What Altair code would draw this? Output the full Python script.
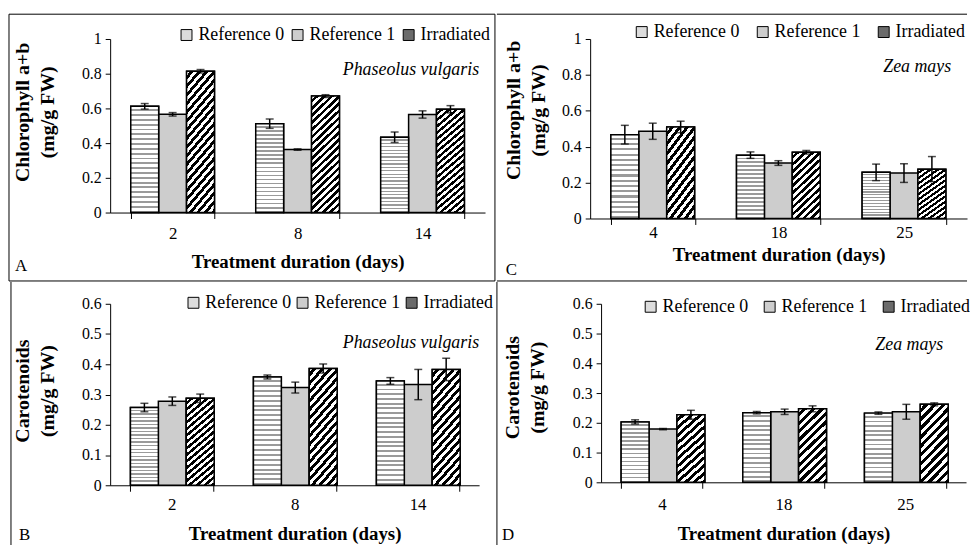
import altair as alt
import pandas as pd

FONT = "Liberation Serif"
SERIES = ["Reference 0", "Reference 1", "Irradiated"]
LEGEND_FILLS = ["#dcdcdc", "#cdcdcd", "#6b6b6b"]

# Panel A - Phaseolus vulgaris, chlorophyll a+b
a_days = ["2", "8", "14"]
a_ref0 = [0.612, 0.512, 0.434]
a_ref0_err = [0.016, 0.027, 0.030]
a_ref1 = [0.566, 0.363, 0.565]
a_ref1_err = [0.010, 0.004, 0.021]
a_irr = [0.814, 0.671, 0.595]
a_irr_err = [0.010, 0.008, 0.021]

# Panel C - Zea mays, chlorophyll a+b
c_days = ["4", "18", "25"]
c_ref0 = [0.467, 0.353, 0.257]
c_ref0_err = [0.052, 0.018, 0.046]
c_ref1 = [0.486, 0.309, 0.253]
c_ref1_err = [0.045, 0.013, 0.052]
c_irr = [0.510, 0.369, 0.275]
c_irr_err = [0.032, 0.010, 0.070]

# Panel B - Phaseolus vulgaris, carotenoids
b_days = ["2", "8", "14"]
b_ref0 = [0.257, 0.358, 0.345]
b_ref0_err = [0.014, 0.0065, 0.011]
b_ref1 = [0.278, 0.323, 0.333]
b_ref1_err = [0.014, 0.018, 0.050]
b_irr = [0.2875, 0.386, 0.383]
b_irr_err = [0.014, 0.015, 0.037]

# Panel D - Zea mays, carotenoids
d_days = ["4", "18", "25"]
d_ref0 = [0.203, 0.234, 0.2325]
d_ref0_err = [0.007, 0.004, 0.004]
d_ref1 = [0.179, 0.237, 0.237]
d_ref1_err = [0.002, 0.009, 0.025]
d_irr = [0.227, 0.247, 0.262]
d_irr_err = [0.015, 0.010, 0.005]

chl_ticks = [0, 0.2, 0.4, 0.6, 0.8, 1]
car_ticks = [0, 0.1, 0.2, 0.3, 0.4, 0.5, 0.6]
chl_title = ["Chlorophyll  a+b", "(mg/g FW)"]
car_title = ["Carotenoids", "(mg/g FW)"]
x_title = "Treatment duration (days)"


def make_df(days, r0, e0, r1, e1, ir, e2):
    rows = []
    for vals, errs, s in zip([r0, r1, ir], [e0, e1, e2], SERIES):
        for d, v, e in zip(days, vals, errs):
            rows.append({"day": d, "series": s, "value": v, "lo": v - e, "hi": v + e})
    return pd.DataFrame(rows)


def stripes(n, c_on, c_off, frac, x2, y2):
    stops = []
    for i in range(n):
        a = round(i / n, 5)
        b = round((i + frac) / n, 5)
        c = round((i + 1) / n, 5)
        stops += [
            alt.GradientStop(color=c_on, offset=a),
            alt.GradientStop(color=c_on, offset=b),
            alt.GradientStop(color=c_off, offset=b),
            alt.GradientStop(color=c_off, offset=c),
        ]
    return alt.LinearGradient(gradient="linear", stops=stops, x1=0, y1=0, x2=x2, y2=y2)


ONE = pd.DataFrame({"k": [0]})


def panel(df, days, ymax, yticks, ytitle, species, letter, g):
    w, h = g["w"], g["h"]
    xaxis = alt.Axis(
        title=x_title, labelAngle=0, tickBand="extent", tickSize=6,
        labelPadding=g["lpad"], labelFontSize=17, titleFontSize=19,
        titleFontWeight="bold", titleY=g["xty"], titleBaseline="middle",
    )
    yaxis = alt.Axis(
        title=ytitle, values=yticks, format="~g", tickSize=5, labelPadding=4,
        labelFontSize=16, titleFontSize=20, titleFontWeight="bold",
        titleX=g["ytx"], titleY=h / 2 + g["tyo"], titleAngle=270, titleAlign="center",
        titleBaseline="middle", titleLineHeight=25,
    )
    x = alt.X("day:N", sort=days, scale=alt.Scale(paddingInner=0.33, paddingOuter=0.165), axis=xaxis)
    xo = alt.XOffset("series:N", sort=SERIES,
                     scale=alt.Scale(domain=SERIES, paddingInner=0, paddingOuter=0))

    def y(field):
        return alt.Y(f"{field}:Q", scale=alt.Scale(domain=[0, ymax], nice=False), axis=yaxis)

    base = alt.Chart(df).encode(x=x, xOffset=xo)
    bars = base.mark_bar(stroke="black", strokeWidth=1.5).encode(
        y=y("value"),
        fill=alt.Fill(
            "series:N", sort=SERIES,
            scale=alt.Scale(domain=SERIES, range=LEGEND_FILLS),
            legend=alt.Legend(
                title=None, orient="none", legendX=g["lx"], legendY=g["ly"],
                direction="horizontal", symbolType="square", symbolSize=121,
                symbolStrokeColor="black", symbolStrokeWidth=1, labelOffset=3,
                columnPadding=g["lcp"], labelFontSize=18, labelFont=FONT,
                labelColor="black",
            ),
        ),
    )
    grad0 = stripes(g["n0"], "#ffffff", "#9a9a9a", 0.6, 0, 1)
    dx = g["dx"]
    k = (dx + 1) / (dx * dx + 1)
    grad2 = stripes(g["n2"], "#ffffff", "#000000", 0.5, round(dx * k, 4), round(k, 4))
    ref0 = base.transform_filter(alt.datum.series == "Reference 0").mark_bar(
        fill=grad0, stroke="black", strokeWidth=1.5).encode(y=y("value"))
    irr = base.transform_filter(alt.datum.series == "Irradiated").mark_bar(
        fill=grad2, stroke="black", strokeWidth=1.5).encode(y=y("value"))
    err = base.mark_rule(color="black", strokeWidth=1.5).encode(y=y("lo"), y2="hi:Q")
    cap_lo = base.mark_tick(color="black", thickness=1.5, size=8).encode(y=y("lo"))
    cap_hi = base.mark_tick(color="black", thickness=1.5, size=8).encode(y=y("hi"))

    sp = alt.Chart(ONE).mark_text(
        font=FONT, fontSize=18, fontStyle="italic", align="right", baseline="middle", color="black"
    ).encode(x=alt.value(g["sx"]), y=alt.value(g["sy"]), text=alt.value(species))
    lt = alt.Chart(ONE).mark_text(
        font=FONT, fontSize=17, align="left", baseline="middle", color="black"
    ).encode(x=alt.value(g["ltx"]), y=alt.value(g["lty"]), text=alt.value(letter))

    layers = [bars, ref0, irr, err, cap_lo, cap_hi, sp, lt]
    for (x1, x2, y1, y2, op) in g["borders"]:
        layers.append(
            alt.Chart(ONE).mark_rule(color="black", strokeWidth=1, opacity=op).encode(
                x=alt.value(x1), x2=alt.value(x2), y=alt.value(y1), y2=alt.value(y2))
        )
    return alt.layer(*layers).properties(width=w, height=h)


gA = dict(w=378, h=175, lpad=7, xty=49, ytx=-88, tyo=-14, lx=68, ly=-13, lcp=4, sx=372, sy=31,
          ltx=-96, lty=229, n0=22, n2=20, dx=0.23,
          borders=[(-102, -102, -25, 244, 1), (-102, 388, -25, -25, 1),
                   (388, 388, -25, 244, 1), (-102, 388, 244, 244, 1)])
gC = dict(w=380, h=181, lpad=0, xty=36, ytx=-77, tyo=-19, lx=43, ly=-16, lcp=14, sx=364, sy=28,
          ltx=-85, lty=233, n0=16, n2=13, dx=0.4,
          borders=[(-94, -94, -25, 244, 0), (-94, 380, -25, -25, 1), (-94, 380, 244, 244, 1)])
gB = dict(w=372, h=183, lpad=5, xty=49, ytx=-88, tyo=-4, lx=75, ly=-10, lcp=2, sx=372, sy=40,
          ltx=-92, lty=233, n0=22, n2=17, dx=0.27,
          borders=[(-100, 390, -22, -22, 0), (-100, -100, -22, 244, 1), (390, 390, -22, 244, 1)])
gD = dict(w=368, h=180, lpad=8, xty=52, ytx=-89, tyo=-6, lx=41, ly=-6, lcp=12, sx=345, sy=42,
          ltx=-100, lty=233, n0=15, n2=12, dx=0.37,
          borders=[(-104, 368, -22, -22, 0), (-104, -104, -22, 240, 0)])

pA = panel(make_df(a_days, a_ref0, a_ref0_err, a_ref1, a_ref1_err, a_irr, a_irr_err),
           a_days, 1, chl_ticks, chl_title, "Phaseolus vulgaris", "A", gA)
pC = panel(make_df(c_days, c_ref0, c_ref0_err, c_ref1, c_ref1_err, c_irr, c_irr_err),
           c_days, 1, chl_ticks, chl_title, "Zea mays", "C", gC)
pB = panel(make_df(b_days, b_ref0, b_ref0_err, b_ref1, b_ref1_err, b_irr, b_irr_err),
           b_days, 0.6, car_ticks, car_title, "Phaseolus vulgaris", "B", gB)
pD = panel(make_df(d_days, d_ref0, d_ref0_err, d_ref1, d_ref1_err, d_irr, d_irr_err),
           d_days, 0.6, car_ticks, car_title, "Zea mays", "D", gD)

row1 = alt.hconcat(pA, pC, spacing=0).resolve_scale(fill="independent").resolve_legend(fill="independent")
row2 = alt.hconcat(pB, pD, spacing=0).resolve_scale(fill="independent").resolve_legend(fill="independent")

chart = (
    alt.vconcat(row1, row2, spacing=-1)
    .resolve_scale(fill="independent")
    .resolve_legend(fill="independent")
    .properties(padding={"left": 0, "top": 3, "right": 0, "bottom": 0}, background="white")
    .configure_view(stroke=None)
    .configure_axis(
        labelFont=FONT, titleFont=FONT, labelColor="black", titleColor="black",
        domainColor="black", tickColor="black", grid=False, domainWidth=1, tickWidth=1,
    )
    .configure_legend(labelFont=FONT, labelColor="black")
)

chart.save("out.html", embed_options={"renderer": "svg", "actions": False})
